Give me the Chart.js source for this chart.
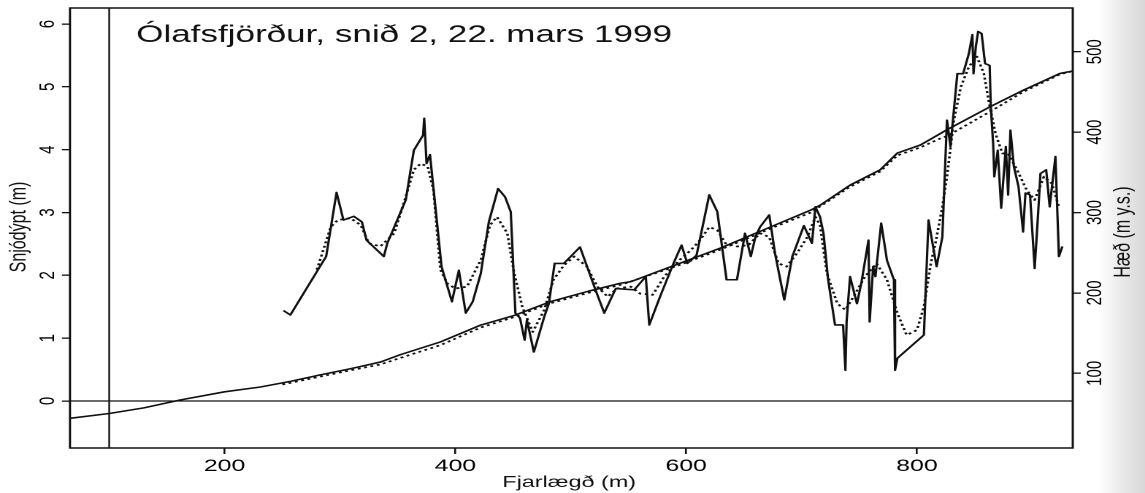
<!DOCTYPE html>
<html>
<head>
<meta charset="utf-8">
<script src="https://cdn.jsdelivr.net/npm/chart.js@4.4.0/dist/chart.umd.min.js"></script>
<style>
  html, body { margin: 0; padding: 0; overflow: hidden; }
  body {
    width: 1145px; height: 493px;
    background: linear-gradient(to right, #fff 0, #fff 1098px, #e9e9e9 1122px, #d8d8d8 1145px);
  }
  /* the scanned figure is stretched sideways, so the chart is drawn narrow and widened */
  #wrap { width: 784px; height: 493px; transform: scaleX(1.4605); transform-origin: 0 0; }
</style>
</head>
<body>
<div id="wrap"><canvas id="myChart"></canvas></div>
<script>
// Snjódýpt, mæld (m)
var snowDist = [251, 257, 288, 292, 297, 303, 312, 319, 323, 338, 341, 357, 364, 372, 373, 375, 378, 388, 397, 403,
  409, 415, 422, 429, 437, 443, 448, 452, 456, 460, 462, 468, 477, 481, 486, 494, 508, 521, 529, 539,
  555, 565, 568, 578, 589, 596, 601, 609, 620, 627, 635, 644, 651, 656, 660, 664, 672, 677, 685, 692,
  702, 709, 712, 716, 719, 723, 729, 736, 738, 739, 742, 748, 752, 758, 759, 762, 764, 769, 774, 780,
  781, 783, 806, 810, 817, 822, 826, 829, 835, 840, 845, 848, 849, 851, 853, 856, 859, 863, 864, 866,
  867, 870, 873, 877, 879, 881, 884, 888, 892, 894, 898, 902, 905, 907, 912, 915, 920, 923, 926];
var snowDepth = [1.44, 1.37, 2.30, 2.75, 3.32, 2.88, 2.94, 2.85, 2.56, 2.30, 2.51, 3.20, 3.99, 4.23, 4.50, 3.78, 3.92, 2.14, 1.58, 2.08,
  1.40, 1.58, 2.03, 2.85, 3.38, 3.25, 3.01, 1.40, 1.32, 0.97, 1.29, 0.78, 1.34, 1.55, 2.19, 2.19, 2.45, 1.79, 1.40, 1.79,
  1.77, 1.98, 1.21, 1.69, 2.19, 2.48, 2.19, 2.32, 3.28, 3.01, 1.93, 1.93, 2.67, 2.30, 2.61, 2.77, 2.96, 2.35, 1.61, 2.30,
  2.79, 2.51, 3.09, 2.93, 2.67, 1.93, 1.21, 1.21, 0.49, 1.26, 1.98, 1.55, 1.90, 2.56, 1.26, 2.14, 1.98, 2.83, 2.24, 1.93,
  0.49, 0.68, 1.05, 2.88, 2.14, 2.61, 4.47, 4.05, 5.21, 5.21, 5.53, 5.83, 5.21, 5.64, 5.88, 5.85, 5.37, 5.34, 4.68, 4.10,
  3.57, 3.99, 3.07, 4.05, 3.28, 4.31, 3.73, 3.41, 2.69, 3.31, 3.28, 2.11, 2.99, 3.62, 3.68, 3.09, 3.89, 2.30, 2.46];

// Snjódýpt, jöfnuð (punktalína)
var smoothDist = [280, 292, 298, 309, 318, 325, 335, 347, 357, 364, 370, 376, 381, 387, 393, 400, 410, 422, 430, 436,
  445, 451, 458, 467, 477, 485, 494, 503, 514, 523, 532, 540, 552, 560, 571, 581, 594, 604, 612, 620,
  627, 634, 644, 654, 664, 672, 680, 687, 696, 705, 712, 716, 722, 731, 738, 745, 755, 765, 774, 783,
  791, 800, 806, 812, 816, 822, 826, 832, 838, 845, 852, 858, 862, 868, 874, 879, 887, 895, 902, 910, 917, 923];
var smoothDepth = [2.09, 2.77, 2.88, 2.91, 2.80, 2.51, 2.46, 2.67, 3.25, 3.68, 3.78, 3.73, 3.36, 2.09, 1.87, 1.79, 1.82, 2.24, 2.80, 2.93,
  2.67, 2.03, 1.50, 1.10, 1.45, 1.93, 2.16, 2.30, 2.14, 1.82, 1.66, 1.79, 1.82, 1.71, 1.69, 1.98, 2.24, 2.40, 2.56, 2.77,
  2.72, 2.51, 2.46, 2.48, 2.67, 2.61, 2.19, 2.14, 2.35, 2.61, 2.93, 2.80, 2.03, 1.55, 1.45, 1.66, 1.98, 2.19, 1.93, 1.40,
  1.05, 1.13, 1.50, 2.19, 2.51, 3.09, 3.57, 4.47, 5.00, 5.32, 5.48, 5.21, 4.79, 4.26, 3.94, 3.94, 3.67, 3.36, 3.20, 3.57, 3.46, 3.09];

// Hæð lands (m y.s.), hægri ás
var elevDist = [66, 100, 130, 162, 200, 231, 257, 283, 310, 335, 352, 387, 422, 451, 482, 515, 543, 552, 591, 630,
  673, 708, 716, 742, 768, 783, 803, 820, 826, 864, 892, 924, 935];
var elevHeight = [44, 50, 57, 67, 77, 83, 90, 98, 106, 114, 123, 139, 160, 172, 189, 202, 212, 214, 235, 256,
  282, 303, 309, 334, 353, 374, 384, 398, 403, 432, 452, 473, 476];
var elevDist2 = [250, 283, 310, 335, 352, 387, 422, 451, 482, 515, 543, 591, 630, 673, 708, 742, 768, 783, 803, 820,
  826, 864, 892, 924, 933];
var elevHeight2 = [86, 96, 104, 111, 119, 135, 157, 170, 187, 200, 210, 233, 254, 280, 300, 332, 351, 371, 381, 392,
  395, 426, 450, 472, 475];

var xTicks = [200, 400, 600, 800];
var depthTicks = [0, 1, 2, 3, 4, 5, 6];
var heightTicks = [100, 200, 300, 400, 500];
var zeroDepth = 0;
var markerDist = 100;

var titleText = 'Ólafsfjörður, snið 2, 22. mars 1999';
var xTitle = 'Fjarlægð (m)';
var yTitle = 'Snjódýpt (m)';
var y2Title = 'Hæð (m y.s.)';

var FONT = '"Liberation Sans", Arial, Helvetica, sans-serif';
Chart.defaults.font.family = FONT;
Chart.defaults.color = '#000';

function pairs(xs, ys) {
    return xs.map(function (x, i) { return { x: x, y: ys[i] }; });
}

function fixTicks(list) {
    return function (scale) {
        scale.ticks = list.map(function (v) { return { value: v }; });
    };
}

var annotate = {
    id: 'annotate',
    beforeDatasetsDraw: function (chart) {
        var ctx = chart.ctx, a = chart.chartArea;
        var y0 = chart.scales.y.getPixelForValue(zeroDepth);
        var x0 = chart.scales.x.getPixelForValue(markerDist);
        ctx.save();
        ctx.strokeStyle = '#111';
        ctx.lineWidth = 1.2;
        ctx.beginPath();
        ctx.moveTo(a.left, y0);
        ctx.lineTo(a.right, y0);
        ctx.moveTo(x0, a.top);
        ctx.lineTo(x0, a.bottom);
        ctx.stroke();
        ctx.restore();
    },
    afterDraw: function (chart) {
        var ctx = chart.ctx, a = chart.chartArea;
        ctx.save();
        // box round the plot
        ctx.strokeStyle = '#111';
        ctx.lineWidth = 1.5;
        ctx.strokeRect(a.left, a.top, a.right - a.left, a.bottom - a.top);

        ctx.fillStyle = '#111';
        ctx.font = '24px ' + FONT;
        ctx.textAlign = 'left';
        ctx.textBaseline = 'alphabetic';
        ctx.fillText(titleText, a.left + 45.3, 42);

        ctx.font = '16px ' + FONT;
        ctx.textAlign = 'center';
        ctx.fillText(xTitle, (a.left + a.right) / 2 - 1.5, 487);

        ctx.textBaseline = 'middle';
        ctx.translate(13, 227);
        ctx.rotate(-Math.PI / 2);
        ctx.fillText(yTitle, 0, 0);
        ctx.setTransform(1, 0, 0, 1, 0, 0);
        ctx.scale(chart.currentDevicePixelRatio, chart.currentDevicePixelRatio);
        ctx.translate(769, 232);
        ctx.rotate(-Math.PI / 2);
        ctx.fillText(y2Title, 0, 0);
        ctx.restore();
    }
};

var tickGrid = { drawOnChartArea: false, drawTicks: true, color: '#111', lineWidth: 1.3 };

var ctx = document.getElementById('myChart').getContext('2d');
var myChart = new Chart(ctx, {
    type: 'line',
    data: {
        datasets: [{
            label: 'Hæð',
            data: pairs(elevDist, elevHeight),
            yAxisID: 'y2',
            borderColor: '#111',
            borderWidth: 1.6
        }, {
            label: 'Hæð (jöfnuð)',
            data: pairs(elevDist2, elevHeight2),
            yAxisID: 'y2',
            borderColor: '#111',
            borderWidth: 1.7,
            borderDash: [2, 2.5]
        }, {
            label: 'Snjódýpt',
            data: pairs(snowDist, snowDepth),
            yAxisID: 'y',
            borderColor: '#111',
            borderWidth: 1.6
        }, {
            label: 'Snjódýpt (jöfnuð)',
            data: pairs(smoothDist, smoothDepth),
            yAxisID: 'y',
            borderColor: '#111',
            borderWidth: 1.8,
            borderDash: [2, 2.5]
        }]
    },
    options: {
        responsive: true,
        maintainAspectRatio: false,
        animation: false,
        devicePixelRatio: 2,
        layout: { padding: { top: 8, left: 0, right: 0, bottom: 0 } },
        elements: {
            point: { radius: 0 },
            line: { tension: 0, borderJoinStyle: 'round', fill: false }
        },
        scales: {
            x: {
                type: 'linear',
                position: 'bottom',
                min: 66,
                max: 935,
                afterBuildTicks: fixTicks(xTicks),
                afterFit: function (s) { s.height = 45; s.paddingLeft = 0; s.paddingRight = 0; },
                grid: Object.assign({ tickLength: 6 }, tickGrid),
                border: { display: false },
                ticks: { autoSkip: false, maxRotation: 0, padding: 2, font: { size: 17 } }
            },
            y: {
                type: 'linear',
                position: 'left',
                min: -0.748,
                max: 6.255,
                afterBuildTicks: fixTicks(depthTicks),
                afterFit: function (s) { s.width = 47.9; s.paddingTop = 0; s.paddingBottom = 0; },
                grid: Object.assign({ tickLength: 5.5 }, tickGrid),
                border: { display: false },
                ticks: { autoSkip: false, minRotation: 90, maxRotation: 90, crossAlign: 'center', padding: 5.3, font: { size: 15 } }
            },
            y2: {
                type: 'linear',
                position: 'right',
                min: 7.1,
                max: 554.4,
                afterBuildTicks: fixTicks(heightTicks),
                afterFit: function (s) { s.width = 49.5; s.paddingTop = 0; s.paddingBottom = 0; },
                grid: Object.assign({ tickLength: 5.5 }, tickGrid),
                border: { display: false },
                ticks: { autoSkip: false, minRotation: 90, maxRotation: 90, crossAlign: 'center', padding: -2.5, font: { size: 15 } }
            }
        },
        plugins: {
            legend: { display: false },
            tooltip: { enabled: false },
            title: { display: false }
        }
    },
    plugins: [annotate]
});
</script>
</body>
</html>
